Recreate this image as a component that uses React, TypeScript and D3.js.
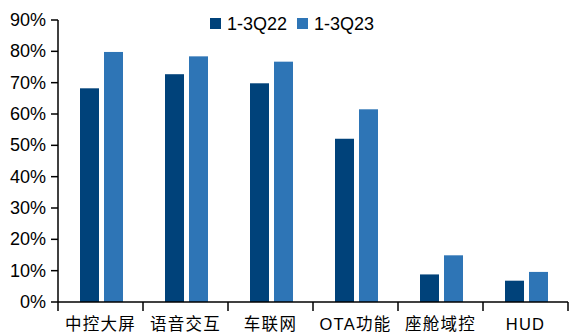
import React from "react";
import * as d3 from "d3";

const categories = ["中控大屏", "语音交互", "车联网", "OTA功能", "座舱域控", "HUD"];
const series22 = [68.2, 72.7, 69.8, 52.1, 8.8, 6.8];
const series23 = [79.8, 78.4, 76.7, 61.5, 14.9, 9.6];
const seriesNames = ["1-3Q22", "1-3Q23"];
const yTicks = [0, 10, 20, 30, 40, 50, 60, 70, 80, 90];

const W = 569;
const H = 332;
const colors = ["#00427a", "#2e75b6"];

export default function App() {
  const left = 58;
  const right = 568;
  const top = 20;
  const bottom = 302;

  const x = d3.scaleBand<string>().domain(categories).range([left, right]);
  const y = d3.scaleLinear().domain([0, 90]).range([bottom, top]);
  const barW = 19;
  const gap = 5;

  const latin = "'Liberation Sans', Arial, sans-serif";
  const cjk = "'Liberation Sans', 'Noto Sans CJK SC', sans-serif";

  return (
    <svg
      width={W}
      height={H}
      style={{ position: "absolute", left: 0, top: 0, background: "#fff" }}
    >
      {/* bars */}
      {categories.map((c, i) => {
        const bx = (x(c) as number) + x.bandwidth() / 2 - barW - gap / 2 + 1;
        return (
          <g key={c}>
            <rect
              x={bx}
              y={y(series22[i])}
              width={barW}
              height={bottom - y(series22[i])}
              fill={colors[0]}
            />
            <rect
              x={bx + barW + gap}
              y={y(series23[i])}
              width={barW}
              height={bottom - y(series23[i])}
              fill={colors[1]}
            />
          </g>
        );
      })}

      {/* y axis */}
      <line x1={left} x2={left} y1={top} y2={bottom} stroke="#000" strokeWidth={1.5} />
      {yTicks.map((t) => (
        <g key={t}>
          <line x1={left - 7} x2={left} y1={y(t)} y2={y(t)} stroke="#000" strokeWidth={1.5} />
          <text
            x={left - 12}
            y={y(t)}
            textAnchor="end"
            dominantBaseline="central"
            fontFamily={latin}
            fontSize={18}
            fill="#000"
          >
            {t}%
          </text>
        </g>
      ))}

      {/* x axis */}
      <line x1={left} x2={right} y1={bottom} y2={bottom} stroke="#000" strokeWidth={1.5} />
      {[...categories.map((c) => x(c) as number), right].map((tx, i) => (
        <line key={i} x1={tx} x2={tx} y1={bottom} y2={bottom + 9} stroke="#000" strokeWidth={1.5} />
      ))}
      {categories.map((c) => (
        <text
          key={c}
          x={(x(c) as number) + x.bandwidth() / 2}
          y={324}
          textAnchor="middle"
          dominantBaseline="central"
          fontFamily={cjk}
          fontSize={16.5}
          letterSpacing={1.3}
          fill="#000"
        >
          {c}
        </text>
      ))}

      {/* legend */}
      {seriesNames.map((s, i) => {
        const lx = i === 0 ? 210 : 297;
        return (
          <g key={s}>
            <rect x={lx} y={18} width={11} height={11} fill={colors[i]} />
            <text
              x={lx + 17}
              y={24}
              dominantBaseline="central"
              fontFamily={latin}
              fontSize={18}
              fill="#000"
            >
              {s}
            </text>
          </g>
        );
      })}
    </svg>
  );
}
